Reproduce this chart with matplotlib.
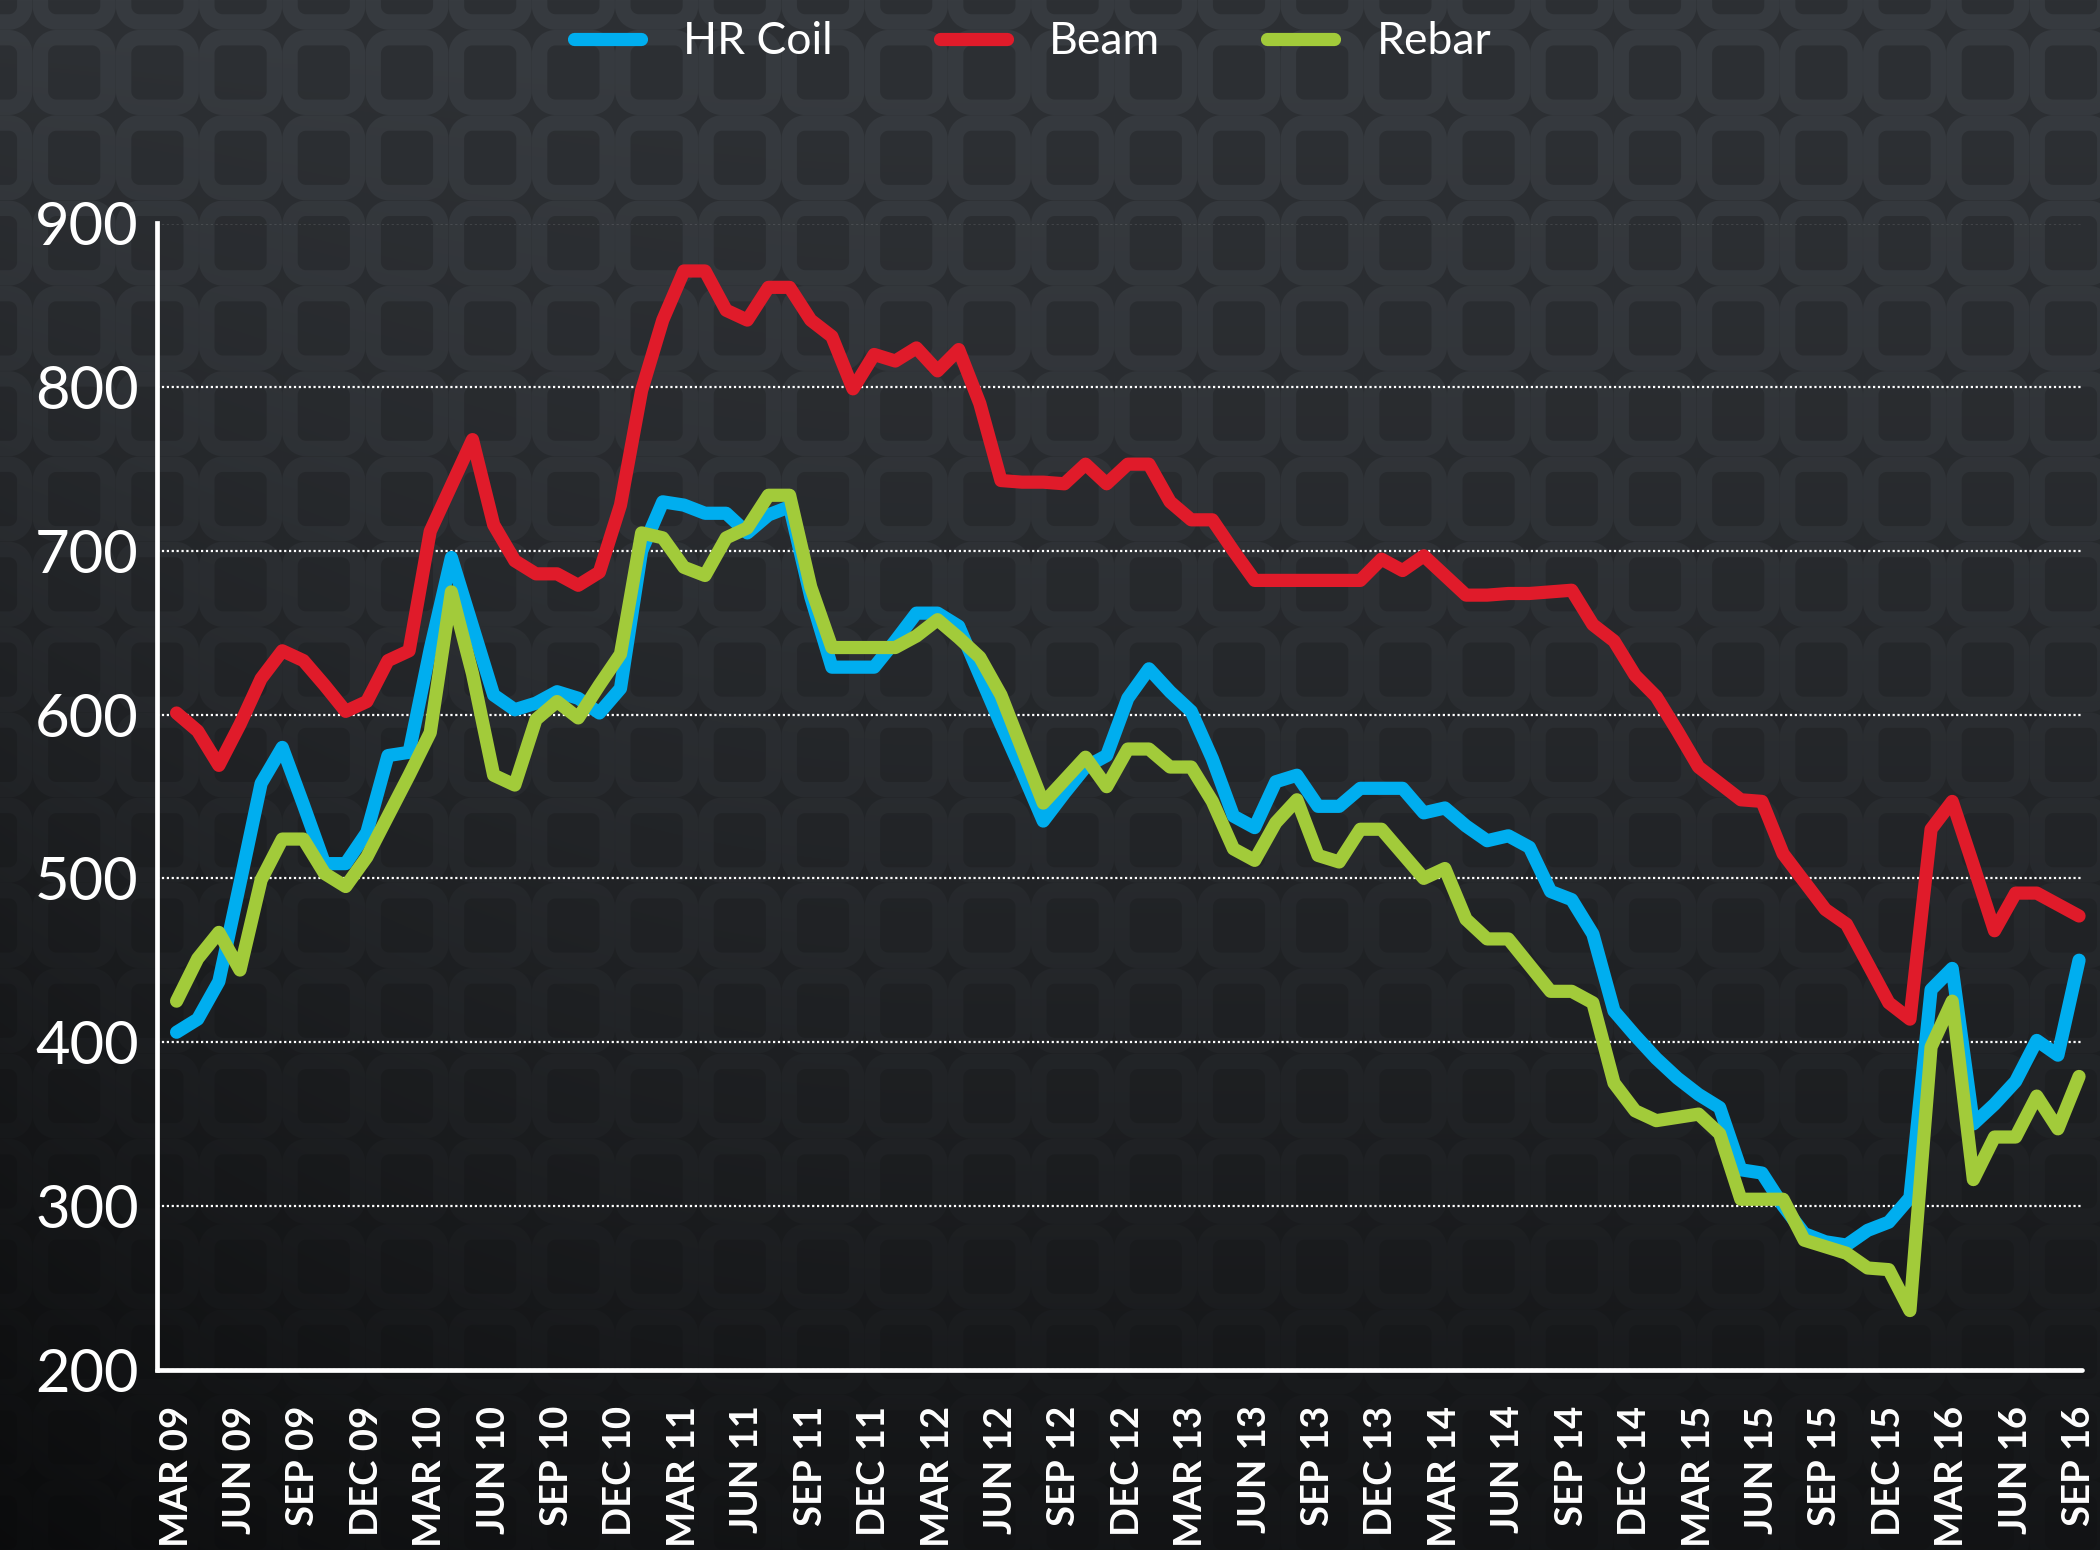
import numpy as np
import matplotlib
matplotlib.use("Agg")
import matplotlib.pyplot as plt

# monthly prices, Mar 09 .. Sep 16
hr_coil = [406, 414, 437, 497, 558, 580, 545, 509, 509, 528, 575, 577,
           640, 696, 654, 612, 603, 607, 614, 610, 601, 616, 700, 730,
           728, 723, 723, 711, 722, 727, 672, 629, 629, 629, 645, 662,
           662, 654, 624, 594, 565, 535, 552, 568, 575, 610, 628, 614,
           602, 573, 538, 531, 559, 563, 544, 544, 555, 555, 555, 540,
           543, 532, 523, 526, 519, 492, 487, 466, 419, 404, 390, 378,
           368, 360, 322, 320, 300, 283, 278, 276, 285, 290, 305, 432,
           445, 350, 362, 376, 401, 392, 450]
beam = [601, 590, 569, 594, 622, 639, 633, 618, 602, 608, 633, 639,
        712, 740, 768, 716, 694, 686, 686, 679, 687, 728, 798, 841,
        871, 871, 847, 841, 861, 861, 841, 831, 799, 820, 816, 824,
        810, 823, 790, 743, 742, 742, 741, 753, 741, 753, 753, 730,
        719, 719, 700, 682, 682, 682, 682, 682, 682, 695, 688, 697,
        685, 673, 673, 674, 674, 675, 676, 655, 645, 624, 611, 590,
        568, 558, 548, 547, 515, 498, 481, 472, 448, 424, 414, 530,
        547, 508, 468, 491, 491, 484, 477]
rebar = [425, 451, 467, 444, 499, 524, 524, 503, 495, 513, 538, 563,
         589, 675, 625, 563, 557, 597, 608, 598, 618, 637, 711, 708,
         690, 685, 708, 714, 734, 734, 678, 641, 641, 641, 641, 648,
         658, 647, 635, 612, 579, 546, 560, 574, 556, 579, 579, 568,
         568, 547, 518, 511, 534, 548, 514, 510, 530, 530, 515, 500,
         506, 475, 463, 463, 447, 431, 431, 424, 375, 358, 352, 354,
         356, 344, 304, 304, 304, 279, 275, 271, 262, 261, 236, 397,
         425, 316, 342, 342, 367, 347, 379]

quarters = ["MAR 09", "JUN 09", "SEP 09", "DEC 09",
            "MAR 10", "JUN 10", "SEP 10", "DEC 10",
            "MAR 11", "JUN 11", "SEP 11", "DEC 11",
            "MAR 12", "JUN 12", "SEP 12", "DEC 12",
            "MAR 13", "JUN 13", "SEP 13", "DEC 13",
            "MAR 14", "JUN 14", "SEP 14", "DEC 14",
            "MAR 15", "JUN 15", "SEP 15", "DEC 15",
            "MAR 16", "JUN 16", "SEP 16"]
y_ticks = [200, 300, 400, 500, 600, 700, 800, 900]

series = [("HR Coil", hr_coil, "#00aeef"),
          ("Beam", beam, "#e01b2a"),
          ("Rebar", rebar, "#a2cb3a")]

W, H = 2100, 1550
fig = plt.figure(figsize=(W / 100, H / 100), dpi=100)

# dark patterned backdrop, fading towards the bottom
yy, xx = np.mgrid[0:H, 0:W].astype(float)
px, py = 83.2, 85.3
u = np.mod(xx - 73.7 + px / 2, px) - px / 2
v = np.mod(yy - 72 + py / 2, py) - py / 2
rad = 16
qx = np.abs(u) - (33.8 - rad)
qy = np.abs(v) - (34.8 - rad)
d = (np.hypot(np.maximum(qx, 0), np.maximum(qy, 0))
     + np.minimum(np.maximum(qx, qy), 0) - rad)
t = yy / H
ring = (np.clip(8.2 - np.abs(d), 0, 1) * (1 - 0.55 * t))[..., None]
g = 1 - 0.6 * t ** 1.5
g *= 1 - 0.4 * np.clip((0.45 - xx / W) / 0.45, 0, 1) ** 2 * t
hole = np.array([45, 48, 52.0])
ringc = np.array([55, 59, 64.0])
img = (hole + ring * (ringc - hole)) * g[..., None] / 255
bg = fig.add_axes([0, 0, 1, 1])
bg.imshow(np.clip(img, 0, 1), aspect="auto", interpolation="nearest")
bg.axis("off")

ax = fig.add_axes([156.7 / W, 1 - 1369.5 / H, (2082 - 156.7) / W, 1146 / H])
ax.set_facecolor("none")

x = np.arange(len(beam))
for name, vals, col in series:
    ax.plot(x, vals, color=col, lw=9.5, label=name, clip_on=False,
            solid_capstyle="round", solid_joinstyle="round")

ax.set_xlim(-0.94, 90.14)
ax.set_ylim(200, 900)

ax.set_yticks(y_ticks)
ax.set_yticklabels([str(v) for v in y_ticks], family="Lato", fontsize=43,
                   color="white")
ax.set_xticks(range(0, len(beam), 3))
ax.set_xticklabels(quarters, rotation=90, family="Lato", fontweight="bold",
                   fontsize=27.5, color="white")
ax.tick_params(axis="y", length=0, pad=13)
ax.tick_params(axis="x", length=0, pad=26)

ax.grid(axis="y", color="white", linestyle=(0, (1, 1.2)), linewidth=1.6)
ax.grid(axis="x", visible=False)
for s in ("top", "right"):
    ax.spines[s].set_visible(False)
for s in ("left", "bottom"):
    ax.spines[s].set_color("white")
    ax.spines[s].set_linewidth(3.4)
ax.spines["bottom"].set_capstyle("round")

leg = ax.legend(loc="center", bbox_to_anchor=(0.4917, 1 - 41.7 / H),
                bbox_transform=fig.transFigure, ncol=3, frameon=False,
                prop={"family": "Lato", "size": 32}, labelcolor="white",
                handlelength=1.51, handletextpad=0.95, columnspacing=2.41)

fig.savefig("out.png", dpi=100)
